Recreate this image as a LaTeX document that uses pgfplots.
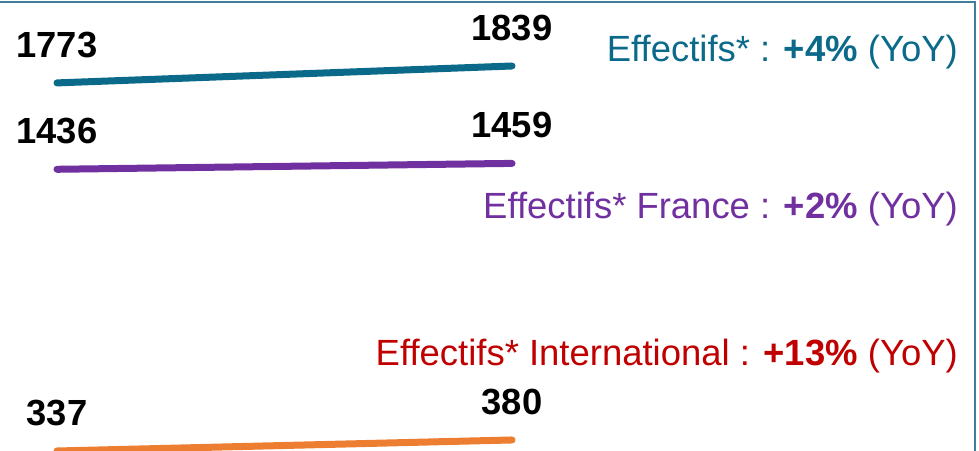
\documentclass[border=0pt]{standalone}
\usepackage{pgfplots}
\pgfplotsset{compat=1.18}
\usepackage{fontspec}
\setmainfont{Liberation Sans}
\definecolor{cteal}{HTML}{0B6A8A}
\definecolor{cpurple}{HTML}{7030A0}
\definecolor{corange}{HTML}{ED7D31}
\definecolor{cred}{HTML}{C00000}
\definecolor{cframe}{HTML}{3F7F9B}
\begin{document}
\begin{tikzpicture}[x=1bp,y=1bp]
\path[use as bounding box] (0,0) rectangle (979,451);
\begin{axis}[at={(0,0)}, anchor=south west, scale only axis,
  width=979bp, height=451bp, hide axis,
  xmin=-0.12527, xmax=2.02637, ymin=337, ymax=2096.5, clip=true,
  /pgf/number format/assume math mode=true,
  /pgf/number format/1000 sep={},
  nodes near coords,
  every node near coord/.append style={anchor=center, yshift=38bp,
    font=\fontsize{36.5}{36.5}\selectfont\bfseries, text=black},
  line cap=round]
\addplot[cteal, line width=7bp, line cap=round] coordinates {(0,1773) (1,1839)};
\addplot[cpurple, line width=7bp, line cap=round] coordinates {(0,1436) (1,1459)};
\addplot[corange, line width=7bp, line cap=round] coordinates {(0,337) (1,380)};
\end{axis}
\draw[cframe, line width=2.5bp] (0,449) -- (975,449) -- (975,0);
\node[anchor=base east, inner sep=0pt, text=cteal, font=\fontsize{36.6}{36.6}\selectfont] at (958,389) {Effectifs* : \textbf{+4\%} (YoY)};
\node[anchor=base east, inner sep=0pt, text=cpurple, font=\fontsize{36.6}{36.6}\selectfont] at (958,232) {Effectifs* France : \textbf{+2\%} (YoY)};
\node[anchor=base east, inner sep=0pt, text=cred, font=\fontsize{36.6}{36.6}\selectfont] at (958,85) {Effectifs* International : \textbf{+13\%} (YoY)};
\end{tikzpicture}
\end{document}
